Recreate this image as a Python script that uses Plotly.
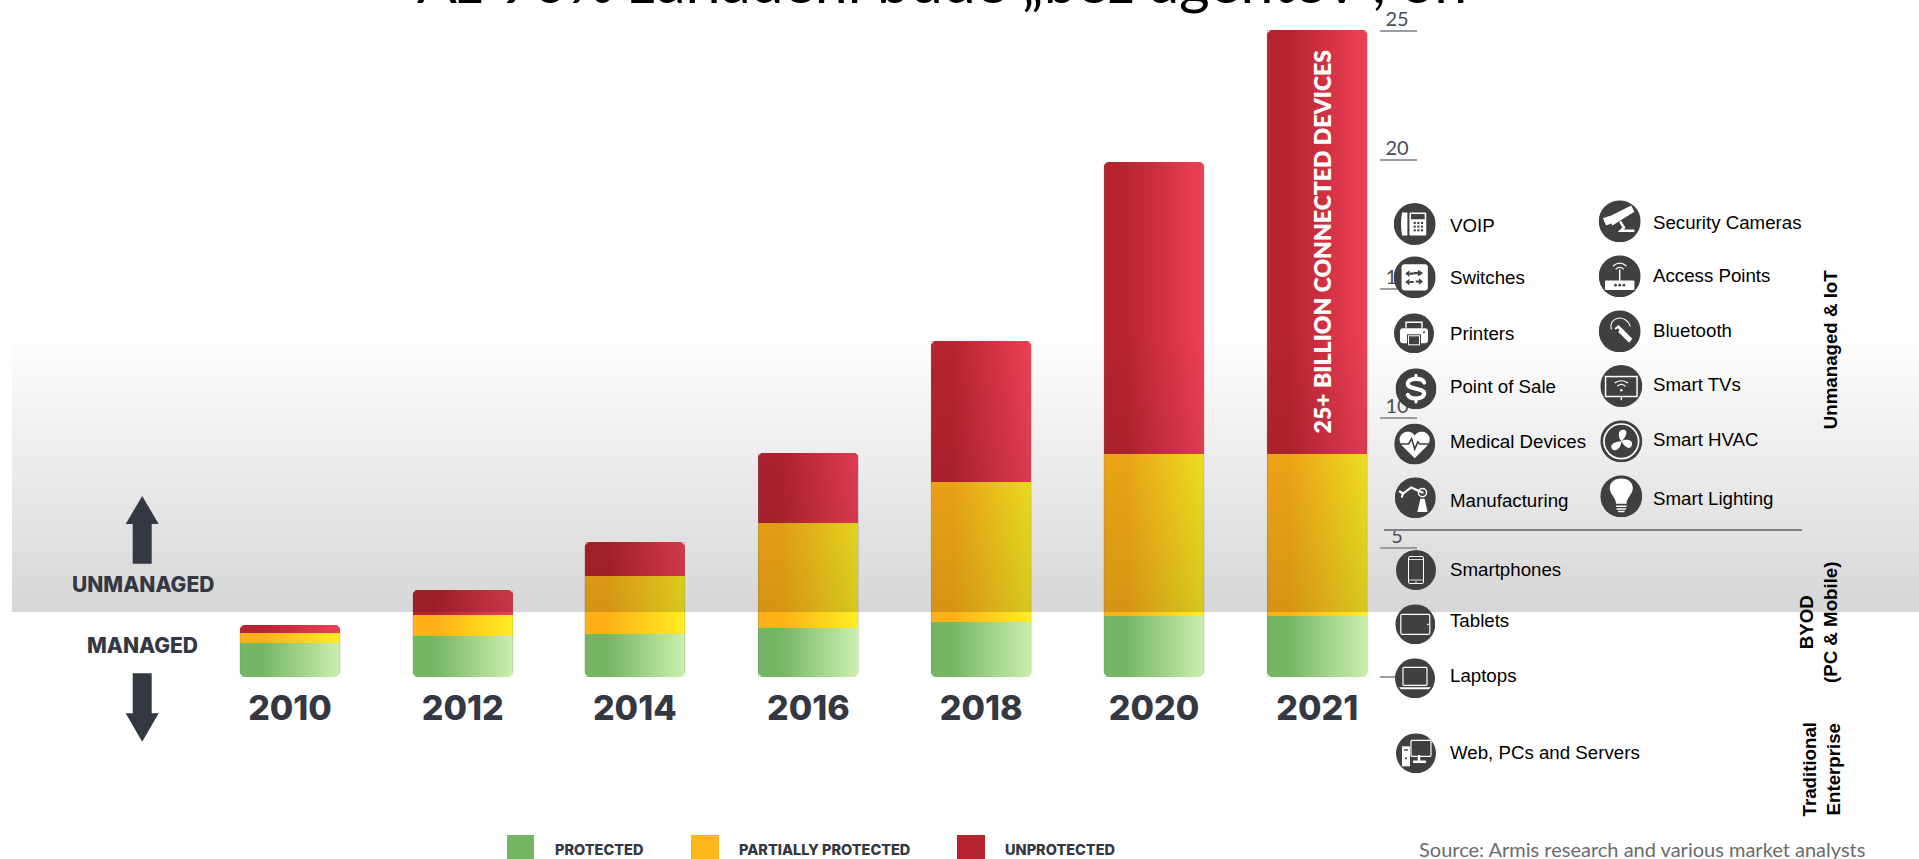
import base64
import plotly.graph_objects as go

W, H = 1919, 859

# Chart data: connected devices in billions
years = ["2010", "2012", "2014", "2016", "2018", "2020", "2021"]
protected = [1.30, 1.57, 1.67, 1.90, 2.10, 2.35, 2.35]
partially_protected = [0.38, 0.81, 2.23, 4.04, 5.42, 6.27, 6.27]
unprotected = [0.32, 0.98, 1.30, 2.73, 5.46, 11.30, 16.40]
axis_ticks = [0, 5, 10, 15, 20, 25]
axis_labels = ["", "5", "10", "15", "20", "25"]

left_devices = ["VOIP", "Switches", "Printers", "Point of Sale", "Medical Devices", "Manufacturing"]
right_devices = ["Security Cameras", "Access Points", "Bluetooth", "Smart TVs", "Smart HVAC", "Smart Lighting"]
byod_devices = ["Smartphones", "Tablets", "Laptops", "Web, PCs and Servers"]

# Horizontal slots of the bars; the last year sits slightly closer to its neighbour
bar_slots = [0, 1, 1.995, 3, 4, 5, 5.945]

# Pixel scale of the full-canvas plot area
PX_X0, PX_PER_SLOT = 290.0, 172.8
PX_Y0, PX_PER_UNIT = 676.7, 25.84
BAR_PX = 100.0
SLICES = 50
DARK = "#333842"
HEAVY = "Inter"
BAND_ALPHA = 0.16


def slot_from_px(px):
    return (px - PX_X0) / PX_PER_SLOT


def value_from_px(py):
    return (PX_Y0 - py) / PX_PER_UNIT


def px_x(slot):
    return PX_X0 + slot * PX_PER_SLOT


def px_y(value):
    return PX_Y0 - value * PX_PER_UNIT


def fx(px):
    return px / W


def fy(py):
    return 1 - py / H


def mix(c0, c1, t):
    return "rgb(%d,%d,%d)" % tuple(round(a + (b - a) * t) for a, b in zip(c0, c1))


series = [
    (protected, (0x75, 0xB6, 0x65), (0xCB, 0xEF, 0xAE)),
    (partially_protected, (0xFD, 0xB0, 0x18), (0xFF, 0xEE, 0x22)),
    (unprotected, (0xB7, 0x24, 0x30), (0xEF, 0x40, 0x57)),
]

fig = go.Figure()

# Each stacked segment is split into thin vertical slices to give it a left-to-right gradient
bases = [0.0] * len(years)
slot_width = BAR_PX / PX_PER_SLOT
for values, c0, c1 in series:
    for k in range(SLICES):
        t = max(0.0, ((k + 0.5) / SLICES - 0.22) / 0.78)
        fig.add_trace(go.Bar(
            x=bar_slots, y=values, base=bases,
            width=slot_width / SLICES,
            offset=-slot_width / 2 + k * slot_width / SLICES,
            marker=dict(color=mix(c0, c1, t), line=dict(width=0)),
            hoverinfo="skip", showlegend=False,
        ))
    bases = [b + v for b, v in zip(bases, values)]

# Grey fade drawn on top of the bars, marking the unmanaged zone
BAND_TOP, BAND_BOTTOM, BAND_LEFT = 330.0, 612.0, 12.0
fig.add_trace(go.Scatter(
    x=[slot_from_px(BAND_LEFT), slot_from_px(W), slot_from_px(W), slot_from_px(BAND_LEFT)],
    y=[value_from_px(BAND_BOTTOM), value_from_px(BAND_BOTTOM), value_from_px(BAND_TOP), value_from_px(BAND_TOP)],
    mode="none", fill="toself",
    fillgradient=dict(type="vertical", colorscale=[[0, f"rgba(0,0,0,{BAND_ALPHA})"], [1, "rgba(0,0,0,0)"]]),
    hoverinfo="skip", showlegend=False,
))

# Axis numbers sit just above their tick marks and pass under the device icons
fig.add_trace(go.Scatter(
    x=[slot_from_px(1397)] * len(axis_ticks), y=axis_ticks,
    mode="text", text=axis_labels, textposition="top center",
    textfont=dict(family="Lato", size=20, color="#4a4e58"),
    hoverinfo="skip", showlegend=False,
))


def icon_svg(inner):
    svg = ('<svg xmlns="http://www.w3.org/2000/svg" width="120" height="120" viewBox="-20 -20 40 40">'
           '<circle r="20" fill="#404040"/>' + inner + "</svg>")
    return "data:image/svg+xml;base64," + base64.b64encode(svg.encode()).decode()


WH = 'fill="#fff"'
DK = 'fill="#404040"'
ST = 'fill="none" stroke="#fff" stroke-width="{}" stroke-linecap="round"'

keypad = "".join(
    f'<rect x="{x}" y="{y}" width="2" height="2" {DK}/>' for x in (-1, 2.5, 6) for y in (-2, 1.5, 5))
arrows = "".join(
    f'<path d="M{a},{y} L{b},{y}" stroke="#404040" stroke-width="2"/>'
    f'<path d="M{b},{y-3.2} L{c},{y} L{b},{y+3.2}Z" {DK}/>'
    for a, b, c, y in [(-1, -5, -9, -3.5), (-1, 3, 8, -4), (-1, -5, -9, 4.5), (1, 4, 8, 4)])
wifi = ('<path d="M-6,{0} Q0,{1} 6,{0}" {s}/><path d="M-3.6,{2} Q0,{3} 3.6,{2}" {s}/>')

icons = {
    "VOIP": f'<path d="M-12,-11 h5 v22 h-5 q-2,-11 0,-22Z" {WH}/><rect x="-5" y="-11" width="16" height="22" rx="1" {WH}/>'
            f'<rect x="-3.5" y="-9.5" width="13" height="5" {DK}/>' + keypad,
    "Switches": f'<rect x="-12.5" y="-12.5" width="25" height="25" rx="3" {WH}/>' + arrows,
    "Printers": f'<path d="M-8,-6 v-5 h16 v5" {ST.format(1.4)}/><rect x="-14" y="-5" width="28" height="15" rx="3" {WH}/>'
                f'<rect x="-7" y="1" width="14" height="12" {DK}/><rect x="-5.5" y="2.5" width="11" height="9" fill="#404040" stroke="#fff"/>'
                f'<circle cx="10" cy="-1" r="1" {DK}/>',
    "Point of Sale": f'<path d="M8,-6 C6,-11 -8,-11 -8,-4.5 C-8,1 8,-1 8,4.5 C8,11 -6,11 -8,6" {ST.format(4)}/>'
                     f'<path d="M0,-13 V-9 M0,9 V13" {ST.format(3)}/>',
    "Medical Devices": f'<path d="M0,14 L-12,2 C-18,-5 -13,-12 -7,-12 C-3,-12 -1,-10 0,-8 C1,-10 3,-12 7,-12 C13,-12 18,-5 12,2Z" {WH}/>'
                       '<path d="M-15,0 H-6 L-3,-5 L0,5 L3,-2 L5,0 H15" fill="none" stroke="#404040" stroke-width="1.6"/>',
    "Manufacturing": f'<path d="M2,14 L5,1 L9,1 L12,14Z" {WH}/><circle cx="7" cy="-5" r="4" fill="none" stroke="#fff" stroke-width="1.4"/>'
                     f'<path d="M7,-5 L-4,-10 L-12,-4 M-15,-6 L-12,-4 L-13,-1" {ST.format(2.2)}/>',
    "Security Cameras": f'<path d="M-11,-4 L11,-15 L14,-9 L-7,4Z" {WH}/><path d="M-16,-3 L-10,-5 L-8,2 L-13,4Z" {WH}/>'
                        f'<path d="M1,1 L4,6 L1,9 H13" {ST.format(2.4)}/>',
    "Access Points": f'<rect x="-14" y="4" width="28" height="9" rx="1" {WH}/><path d="M0,4 V-6" {ST.format(1.4)}/>'
                     + wifi.format(-10, -15, -7, -10, s=ST.format(1.2))
                     + "".join(f'<circle cx="{x}" cy="8.5" r="1.3" {DK}/>' for x in (-4, 0, 4)),
    "Bluetooth": f'<path d="M-8,-2 C-11,-14 6,-17 10,-5" {ST.format(1)}/><path d="M-5,-3 L-1,-6 L12,7 L9,11Z" {WH}/>'
                 f'<circle cx="-2" cy="-1" r="1.6" {DK}/>',
    "Smart TVs": f'<rect x="-15" y="-9" width="30" height="19" fill="none" stroke="#fff" stroke-width="1.4"/>'
                 + wifi.format(-3, -7, 0, -3, s=ST.format(1.1)) + f'<circle cx="0" cy="4" r="1.2" {WH}/><path d="M0,10 V13" {ST.format(1.2)}/>',
    "Smart HVAC": '<circle r="16.5" fill="none" stroke="#fff" stroke-width="1.6"/>'
                  f'<path d="M0,0 C-3,-4 -4,-11 2,-11 C7,-11 5,-4 0,0 C5,-3 12,-1 10,4 C8,9 3,5 0,0 C0,6 -5,11 -9,7 C-12,3 -5,0 0,0Z" {WH}/>',
    "Smart Lighting": f'<path d="M-5,7 C-5,1 -11,-2 -11,-8 C-11,-20 11,-20 11,-8 C11,-2 5,1 5,7Z" {WH}/>'
                      f'<path d="M-4.5,9.5 H4.5 M-4,12 H4 M-2.5,14.5 H2.5" {ST.format(1.4)}/>',
    "Smartphones": f'<rect x="-7.5" y="-13.5" width="15" height="27" rx="1.5" fill="none" stroke="#fff" stroke-width="1"/>'
                   f'<path d="M-7.5,-10.5 H7.5 M-7.5,10 H7.5" {ST.format(0.8)}/><circle cy="12" r=".8" {WH}/>',
    "Tablets": f'<rect x="-14.5" y="-10" width="29" height="20" rx="1.5" fill="none" stroke="#fff" stroke-width="1.2"/><circle cx="12.5" r=".9" {WH}/>',
    "Laptops": '<rect x="-12" y="-11" width="24" height="18" rx="1" fill="none" stroke="#fff" stroke-width="1.2"/>'
               f'<path d="M-16,9 H16 L14,11 H-14Z" {WH}/>',
    "Web, PCs and Servers": f'<rect x="-14" y="-7" width="8" height="20" {WH}/><rect x="-12" y="-4" width="4" height="1.4" {DK}/>'
                            f'<circle cx="-10" cy="5" r="1.1" {DK}/><rect x="-5" y="-13" width="20" height="16" rx="1" fill="none" stroke="#fff" stroke-width="1.2"/>'
                            f'<path d="M3,3 V7 M-2,8.5 H9" {ST.format(2.4)}/>',
}

# Device icons: name, centre x, centre y, radius in pixels
icon_layout = [
    ("VOIP", 1414.7, 224.0, 21), ("Switches", 1414.7, 277.3, 21), ("Printers", 1414.0, 333.3, 20),
    ("Point of Sale", 1416.0, 388.7, 20.5), ("Medical Devices", 1414.7, 444.0, 20.5),
    ("Manufacturing", 1415.3, 497.7, 20.5),
    ("Security Cameras", 1619.7, 221.3, 21), ("Access Points", 1619.7, 276.3, 21),
    ("Bluetooth", 1619.7, 331.3, 21), ("Smart TVs", 1621.3, 386.0, 21), ("Smart HVAC", 1621.3, 441.3, 21),
    ("Smart Lighting", 1621.3, 496.3, 21),
    ("Smartphones", 1416.0, 570.0, 20), ("Tablets", 1415.3, 624.3, 20), ("Laptops", 1415.0, 678.3, 20),
    ("Web, PCs and Servers", 1416.0, 753.3, 20),
]
images = [
    dict(source=icon_svg(icons[name]), xref="paper", yref="paper", x=fx(cx - r), y=fy(cy - r),
         sizex=2 * r / W, sizey=2 * r / H, xanchor="left", yanchor="top", sizing="stretch", layer="above")
    for name, cx, cy, r in icon_layout
]


def text(x, y, s, size, color="#000", family="Liberation Sans", bold=False, weight=None, xanchor="left", angle=0, align="center"):
    return dict(
        xref="paper", yref="paper", x=fx(x), y=fy(y), text=s, showarrow=False, xanchor=xanchor, yanchor="middle",
        textangle=angle, align=align,
        font=dict(family=family, size=size, color=color, weight=weight or (700 if bold else 400)),
    )


device_y = {
    "VOIP": 225, "Switches": 277.5, "Printers": 333.5, "Point of Sale": 386.5, "Medical Devices": 441.5,
    "Manufacturing": 500.5, "Security Cameras": 222.7, "Access Points": 275.7, "Bluetooth": 330.7,
    "Smart TVs": 384.7, "Smart HVAC": 439.7, "Smart Lighting": 498.7, "Smartphones": 569.5, "Tablets": 620.7,
    "Laptops": 675.7, "Web, PCs and Servers": 752.3,
}
annotations = []
for name in left_devices + byod_devices:
    annotations.append(text(1447.5, device_y[name], name, 18.7))
for name in right_devices:
    annotations.append(text(1650.5, device_y[name], name, 18.7))

annotations += [
    text(1830.7, 349.5, "<b>Unmanaged &amp; IoT</b>", 18.7, xanchor="center", angle=-90),
    text(1818.5, 622.5, "<b>BYOD<br>(PC &amp; Mobile)</b>", 18.7, xanchor="center", angle=-90),
    text(1821, 769.5, "<b>Traditional<br>Enterprise</b>", 18.7, xanchor="center", angle=-90),
    text(142.5, 584, "UNMANAGED", 21, DARK, HEAVY, weight=800, xanchor="center"),
    text(142.5, 645.7, "MANAGED", 21, DARK, HEAVY, weight=800, xanchor="center"),
    text(1321.7, 241.7, "25+ BILLION CONNECTED DEVICES", 23, "#fff", "Lato", weight=800, xanchor="center", angle=-90),
    text(553, 849, "PROTECTED", 14.5, DARK, HEAVY, weight=800),
    text(737, 849, "PARTIALLY PROTECTED", 14.5, DARK, HEAVY, weight=800),
    text(1003, 849, "UNPROTECTED", 14.5, DARK, HEAVY, weight=800),
    text(1417, 849, "Source: Armis research and various market analysts", 20, "#6b6b6b", "Lato"),
    text(942, -19.5, "Až 90% zariadení bude „bez agentov“, on", 59, "#000", "Lato", xanchor="center"),
]


def rect(x0, y0, x1, y1, color):
    return dict(type="rect", xref="paper", yref="paper", x0=fx(x0), x1=fx(x1), y0=fy(y0), y1=fy(y1),
                fillcolor=color, line=dict(width=0), layer="above")


def poly(points, color):
    path = "M" + " L".join(f"{fx(x):.5f},{fy(y):.5f}" for x, y in points) + " Z"
    return dict(type="path", xref="paper", yref="paper", path=path, fillcolor=color, line=dict(width=0), layer="above")


def band_grey(py):
    if py < BAND_TOP or py > BAND_BOTTOM:
        return "#ffffff"
    g = round(255 * (1 - BAND_ALPHA * (py - BAND_TOP) / (BAND_BOTTOM - BAND_TOP)))
    return f"rgb({g},{g},{g})"


shapes = [
    # Legend swatches
    rect(507, 835, 534, 862, "#75B665"), rect(691, 835, 719, 862, "#FDB718"), rect(957, 835, 985, 862, "#B7242F"),
    # Divider between the unmanaged and BYOD device groups
    rect(1384, 529, 1802, 531, "#7f7f7f"),
    # Up and down arrows beside the zone labels
    poly([(142.2, 496), (158.7, 524), (151.7, 524), (151.7, 563.7), (132.7, 563.7), (132.7, 524), (125.7, 524)], DARK),
    poly([(142.2, 741.7), (158.7, 713.3), (151.7, 713.3), (151.7, 673.3), (132.7, 673.3), (132.7, 713.3), (125.7, 713.3)], DARK),
]

# Soft outline and rounded corners on every bar, taken from the stacked totals
R = 4
totals = [a + b + c for a, b, c in zip(protected, partially_protected, unprotected)]
for slot, total in zip(bar_slots, totals):
    cx = px_x(slot)
    x0, x1 = cx - BAR_PX / 2, cx + BAR_PX / 2
    top, bot = px_y(total), px_y(0)
    for ex, sx in ((x0, 1), (x1, -1)):
        for ey, sy, col in ((top, 1, band_grey(top)), (bot, -1, "#ffffff")):
            pts = [(ex, ey)]
            steps = [(1.0, 0.0), (0.7, 0.08), (0.38, 0.38), (0.08, 0.7), (0.0, 1.0)]
            pts += [(ex + sx * R * a, ey + sy * R * b) for a, b in steps]
            shapes.append(poly(pts, col))
    for ex in (x0, x1):
        shapes.append(rect(ex - 0.5, top + R, ex + 0.5, bot - R, "rgba(120,120,120,0.28)"))

fig.update_layout(
    width=W, height=H, margin=dict(l=0, r=0, t=0, b=0), autosize=False,
    paper_bgcolor="#fff", plot_bgcolor="rgba(0,0,0,0)",
    barmode="overlay", bargap=0, showlegend=False,
    images=images, annotations=annotations, shapes=shapes,
    xaxis=dict(
        range=[slot_from_px(0), slot_from_px(W)], anchor="free", position=1 - (PX_Y0 + 8) / H,
        tickmode="array", tickvals=bar_slots, ticktext=years, showgrid=False, zeroline=False, showline=False,
        ticks="", tickfont=dict(family=HEAVY, size=34, color=DARK, weight=800),
    ),
    yaxis=dict(
        range=[value_from_px(H), value_from_px(0)], anchor="free", position=1379 / W, side="right",
        tickmode="array", tickvals=axis_ticks, showticklabels=False, showgrid=False, zeroline=False, showline=False,
        ticks="outside", ticklen=37, tickwidth=2, tickcolor="#9b9ca3",
    ),
)

fig.write_html("out.html", config=dict(displayModeBar=False))
